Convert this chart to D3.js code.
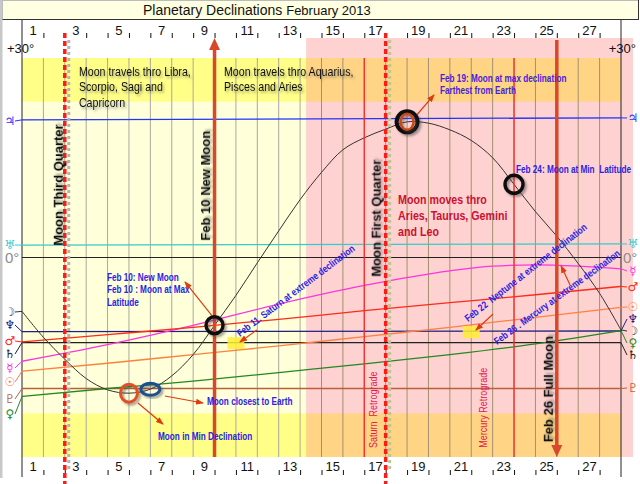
<!DOCTYPE html>
<html>
<head>
<meta charset="utf-8">
<script src="https://cdn.jsdelivr.net/npm/d3@7"></script>
<style>
  body { margin: 0; background: #fff; }
  svg { display: block; font-family: 'Liberation Sans', Arial, sans-serif; }
</style>
</head>
<body>
<svg id="chart" width="640" height="484"></svg>
<script>
/* Planetary declinations, February 2013 — D3 redraw */

// ============================================================
// Data (degrees of declination, by day of month; 29 = 1 March)
// ============================================================

const DAY_TICKS = [1, 2, 3, 4, 5, 6, 7, 8, 9, 10, 11, 12, 13, 14, 15, 16, 17, 18, 19, 20, 21, 22, 23, 24, 25, 26, 27, 28, 29];
const DAY_LABELS = [1, 3, 5, 7, 9, 11, 13, 15, 17, 19, 21, 23, 25, 27];

const MOON_DAYS = DAY_TICKS;
const MOON_DEC = [-8.1, -12.0, -15.3, -18.2, -19.9, -20.4, -19.8, -17.8, -14.6, -10.2,
  -5.7, -0.8, 4.0, 8.7, 12.8, 16.2, 18.0, 19.3, 20.4, 20.2,
  19.2, 17.6, 15.0, 11.0, 6.9, 3.2, -0.9, -5.4, -10.9];

const SAMPLE_DAYS = [1, 5, 9, 13, 17, 21, 25, 29];
const SUN_DEC = [-17.1, -15.9, -14.6, -13.3, -11.9, -10.5, -9.0, -7.5];
const MARS_DEC = [-12.7, -11.6, -10.5, -9.3, -8.0, -6.8, -5.6, -4.35];
const VENUS_DEC = [-20.9, -19.7, -18.6, -17.3, -16.0, -14.6, -13.0, -11.0];

const MERCURY_DAYS = [1, 5, 9, 13, 17, 21, 23, 25, 27, 29];
const MERCURY_DEC = [-15.6, -13.1, -10.2, -7.0, -4.2, -2.0, -1.3, -1.1, -1.3, -1.7];

const END_DAYS = [1, 29];
const JUPITER_DEC = [20.7, 21.0];
const URANUS_DEC = [1.85, 2.05];
const NEPTUNE_DEC = [-11.15, -11.05];
const SATURN_DEC = [-12.8, -12.8];
const PLUTO_DEC = [-19.7, -19.7];

const PHASE_DAYS = [3, 10, 18, 26];
const PHASE_NAMES = ['Moon Third Quarter', 'Feb 10 New Moon', 'Moon First Quarter', 'Feb 26 Full Moon'];
const STATION_DAYS = [17, 24];
const STATION_NAMES = ['Saturn  Retrograde', 'Mercury Retrograde'];

const OBLIQUITY = 23.44;
const SIGN_CHANGE_DAY = 14.28;

// ============================================================
// Setup
// ============================================================

const svg = d3.select('#chart');
const x = d3.scaleLinear().domain([1, 29]).range([22, 621]);
const y = d3.scaleLinear().domain([-30, 30]).range([457, 58]);
const NARROW = 0.82; // no Arial Narrow offline: squeeze Liberation Sans instead

const defs = svg.append('defs');
defs.append('filter').attr('id', 'shadow').attr('x', '-20%').attr('y', '-20%').attr('width', '150%').attr('height', '150%')
  .append('feDropShadow').attr('dx', 2).attr('dy', 2).attr('stdDeviation', 1.2)
  .attr('flood-color', '#444').attr('flood-opacity', 0.5);
defs.append('marker').attr('id', 'arrow')
  .attr('markerUnits', 'userSpaceOnUse').attr('markerWidth', 8).attr('markerHeight', 6)
  .attr('refX', 7).attr('refY', 3).attr('orient', 'auto')
  .append('path').attr('d', 'M0,0L8,3L0,6Z').attr('fill', '#e03a10');

// frame + title bar
svg.append('rect').attr('x', 0).attr('y', 0).attr('width', 2.5).attr('height', 478).attr('fill', '#c8c8c8');
svg.append('rect').attr('x', 2.5).attr('y', 0.5).attr('width', 636).attr('height', 19).attr('fill', '#ffffe1')
  .attr('stroke', '#bbb');
svg.append('line').attr('x1', 2.5).attr('x2', 639).attr('y1', 19.5).attr('y2', 19.5).attr('stroke', '#333');
svg.append('line').attr('x1', 638.5).attr('x2', 638.5).attr('y1', 0).attr('y2', 20).attr('stroke', '#333');

const title = svg.append('text').attr('x', 143).attr('y', 15).attr('fill', '#111');
title.append('tspan').attr('font-size', 14).text('Planetary Declinations ');
title.append('tspan').attr('font-size', 13).text('February 2013');

// ============================================================
// Background regions
// ============================================================

const xs = x(SIGN_CHANGE_DAY);
const bg = svg.append('g');
bg.append('rect').attr('x', x(1)).attr('y', y(30)).attr('width', xs - x(1)).attr('height', y(-30) - y(30)).attr('fill', '#ffffd9');
bg.append('rect').attr('x', xs).attr('y', y(30) - 20).attr('width', x(29) + 12 - xs).attr('height', y(-30) - y(30) + 20).attr('fill', '#ffd2d2');
[[30, OBLIQUITY], [-OBLIQUITY, -30]].forEach(([a, b]) => {
  bg.append('rect').attr('x', x(1)).attr('y', y(a)).attr('width', xs - x(1)).attr('height', y(b) - y(a)).attr('fill', '#ffff88');
  bg.append('rect').attr('x', xs).attr('y', y(a)).attr('width', x(29) - xs).attr('height', y(b) - y(a)).attr('fill', '#ffd585');
});

// grid
svg.append('g').selectAll('line')
  .data(DAY_TICKS.slice(1, -1))
  .join('line')
  .attr('x1', d => x(d)).attr('x2', d => x(d))
  .attr('y1', y(30)).attr('y2', y(-30))
  .attr('stroke', d => d > SIGN_CHANGE_DAY ? '#a49070' : '#a8a8a0').attr('stroke-width', 1);

[1, 29].forEach(d => {
  svg.append('line').attr('x1', x(d)).attr('x2', x(d)).attr('y1', 20).attr('y2', 477).attr('stroke', '#222');
});
svg.append('line').attr('x1', x(1)).attr('x2', x(29)).attr('y1', y(0)).attr('y2', y(0)).attr('stroke', '#222').attr('stroke-width', 1.2);

// ============================================================
// Axes (top + bottom)
// ============================================================

function dayTicks(axisFn, yPos) {
  const g = svg.append('g').attr('transform', `translate(0,${yPos})`)
    .call(axisFn(x).tickValues(DAY_TICKS.slice(1, -1)).tickSize(5).tickFormat(''));
  g.select('.domain').remove();
  g.selectAll('line').attr('stroke', '#111');
}
function dayLabels(axisFn, yPos) {
  const g = svg.append('g').attr('transform', `translate(0,${yPos})`)
    .call(axisFn(x).tickValues(DAY_LABELS.map(d => d + 0.5)).tickSize(0).tickPadding(3).tickFormat(d => Math.floor(d)));
  g.select('.domain').remove();
  g.selectAll('text').attr('font-family', "'Liberation Sans', Arial, sans-serif").attr('font-size', 13).attr('fill', '#111');
}
dayTicks(d3.axisTop, 38);
dayLabels(d3.axisTop, 38);
dayTicks(d3.axisBottom, 470);
dayLabels(d3.axisBottom, 459);

// +30 / 0 labels
svg.append('text').attr('x', 7).attr('y', 53).attr('font-size', 13).attr('fill', '#111').text('+30°');
svg.append('text').attr('x', 636).attr('y', 53).attr('text-anchor', 'end').attr('font-size', 13).attr('fill', '#111').text('+30°');
svg.append('text').attr('x', 5).attr('y', y(0) + 5.5).attr('font-size', 15).attr('fill', '#8c8c8c').text('0°');
svg.append('text').attr('x', 623).attr('y', y(0) + 5.5).attr('font-size', 15).attr('fill', '#8c8c8c').text('0°');

// ============================================================
// Planet lines
// ============================================================

const planets = [
  { sym: '\u2643', color: '#2233ff', days: END_DAYS, dec: JUPITER_DEC, ly: 121, ry: 118 },
  { sym: '\u2645', color: '#33cccc', days: END_DAYS, dec: URANUS_DEC, ly: 245, ry: 244 },
  { sym: '\u2646', color: '#202080', days: END_DAYS, dec: NEPTUNE_DEC, ly: 325, ry: 319 },
  { sym: '\u2644', color: '#222222', days: END_DAYS, dec: SATURN_DEC, ly: 354, ry: 355 },
  { sym: '\u2647', color: '#b8603a', days: END_DAYS, dec: PLUTO_DEC, ly: 399, ry: 388 },
  { sym: '\u263F', color: '#ff33dd', days: MERCURY_DAYS, dec: MERCURY_DEC, ly: 368, ry: 271 },
  { sym: '\u2642', color: '#ff2a1a', days: SAMPLE_DAYS, dec: MARS_DEC, ly: 341, ry: 287 },
  { sym: '\u2609', color: '#ff8040', days: SAMPLE_DAYS, dec: SUN_DEC, ly: 382, ry: 307 },
  { sym: '\u2640', color: '#228822', days: SAMPLE_DAYS, dec: VENUS_DEC, ly: 414, ry: 343 },
  { sym: '\u263D', color: '#333333', days: MOON_DAYS, dec: MOON_DEC, ly: 312, ry: 331, moon: true },
];

const line = d3.line().x(d => x(d[0])).y(d => y(d[1]));
const pg = svg.append('g');
planets.forEach(p => {
  const pts = d3.zip(p.days, p.dec);
  pg.append('path')
    .attr('d', line.curve(p.moon ? d3.curveCatmullRom : d3.curveMonotoneX)(pts))
    .attr('fill', 'none').attr('stroke', p.color).attr('stroke-width', p.moon ? 1 : 1.3);
  // connectors to glyph labels
  pg.append('line').attr('x1', 15).attr('y1', p.ly).attr('x2', x(1)).attr('y2', y(p.dec[0]))
    .attr('stroke', p.color).attr('stroke-width', 1);
  pg.append('line').attr('x1', x(29)).attr('y1', y(p.dec[p.dec.length - 1])).attr('x2', 627).attr('y2', p.ry)
    .attr('stroke', p.color).attr('stroke-width', 1);
  [[10, p.ly], [633, p.ry]].forEach(([gx, gy]) => {
    pg.append('text').attr('x', gx).attr('y', gy)
      .attr('text-anchor', 'middle').attr('dominant-baseline', 'central')
      .attr('font-family', 'DejaVu Sans, sans-serif').attr('font-size', 12).attr('fill', p.color).text(p.sym);
  });
});

// ============================================================
// Moon phases + planetary stations
// ============================================================

const ev = svg.append('g');
STATION_DAYS.forEach(d => {
  ev.append('line').attr('x1', x(d)).attr('x2', x(d)).attr('y1', y(30)).attr('y2', y(-30))
    .attr('stroke', '#ff2a2a').attr('stroke-width', 1.3);
});

PHASE_DAYS.forEach((d, i) => {
  const px = x(d);
  if (i % 2 === 0) {
    // quarter: dashed red with a soft shadow
    ev.append('line').attr('x1', px + 4).attr('x2', px + 4).attr('y1', 40).attr('y2', 470)
      .attr('stroke', i === 0 ? '#b4b4b4' : '#bcc890').attr('stroke-width', 3).attr('stroke-dasharray', '3,3');
    ev.append('line').attr('x1', px).attr('x2', px).attr('y1', 33).attr('y2', 484)
      .attr('stroke', '#ff1a1a').attr('stroke-width', 3.5).attr('stroke-dasharray', '5,3');
  } else {
    const up = i === 1;
    const tip = up ? 38 : y(-30);
    const base = up ? tip + 12 : tip - 12;
    ev.append('line').attr('x1', px).attr('x2', px)
      .attr('y1', up ? base : 40).attr('y2', up ? y(-30) : base)
      .attr('stroke', '#d8482a').attr('stroke-width', 3.5);
    ev.append('path').attr('d', `M${px - 5.5},${base}L${px + 5.5},${base}L${px},${tip}Z`).attr('fill', '#d8482a');
  }
});

// text helper: (day, degree) anchor, optional rotation and horizontal squeeze
function placeText(g, day, dec, angle, squeeze) {
  return g.append('text')
    .attr('transform', `translate(${x(day)},${y(dec)}) rotate(${angle || 0}) scale(${squeeze || 1},1)`)
    .style('white-space', 'pre');
}

// vertical captions (day of the event line + pixel nudge, centre in degrees)
const vlabels = [
  { text: PHASE_NAMES[0], day: PHASE_DAYS[0], dx: -7, dec: 10.9, bold: true },
  { text: PHASE_NAMES[1], day: PHASE_DAYS[1], dx: -9.5, dec: 10.8, bold: true },
  { text: PHASE_NAMES[2], day: PHASE_DAYS[2], dx: -10, dec: 5.9, bold: true },
  { text: PHASE_NAMES[3], day: PHASE_DAYS[3], dx: -9, dec: -19.8, bold: true },
  { text: STATION_NAMES[0], day: STATION_DAYS[0], dx: 9, dec: -22.9, bold: false },
  { text: STATION_NAMES[1], day: STATION_DAYS[1], dx: -31, dec: -22.6, bold: false },
];
vlabels.forEach(v => {
  const t = placeText(ev, v.day + v.dx / 21.39, v.dec, -90, v.bold ? 1 : NARROW)
    .attr('dy', '0.35em').attr('text-anchor', 'middle').text(v.text);
  if (v.bold) t.attr('font-weight', 'bold').attr('font-size', 13).attr('fill', '#111').attr('filter', 'url(#shadow)');
  else t.attr('font-size', 11).attr('fill', '#e0204a');
});

// ============================================================
// Annotations
// ============================================================

const an = svg.append('g');

function textBlock(t) {
  const el = placeText(an, t.day, t.dec, t.angle, NARROW)
    .attr('font-size', t.size).attr('fill', t.color).attr('font-weight', t.bold ? 'bold' : null);
  if (t.shadow) el.attr('filter', 'url(#shadow)');
  t.lines.forEach((s, i) => el.append('tspan').attr('x', 0).attr('dy', i ? t.lh : 0).text(s));
}

const BLUE = '#2a22e6';
[
  { lines: ['Moon travels thro Libra,', 'Scorpio, Sagi and', 'Capricorn'], day: 3.66, dec: 27.3, size: 13, lh: 15.5, color: '#111', shadow: true },
  { lines: ['Moon travels thro Aquarius,', 'Pisces and Aries'], day: 10.44, dec: 27.3, size: 13, lh: 15.5, color: '#111', shadow: true },
  { lines: ['Moon moves thro', 'Aries, Taurus, Gemini', 'and Leo'], day: 18.58, dec: 8.1, size: 13, lh: 16, color: '#cc1030', bold: true },
  { lines: ['Feb 19: Moon at max declination', 'Farthest from Earth'], day: 20.54, dec: 26.4, size: 10, lh: 12, color: '#4a22d8', bold: true },
  { lines: ['Feb 24: Moon at Min  Latitude'], day: 24.09, dec: 12.7, size: 10, lh: 12, color: BLUE, bold: true },
  { lines: ['Feb 10: New Moon', 'Feb 10 : Moon at Max', 'Latitude'], day: 4.97, dec: -3.53, size: 10, lh: 12.5, color: BLUE, bold: true },
  { lines: ['Moon closest to Earth'], day: 9.65, dec: -22.2, size: 10, lh: 12, color: BLUE, bold: true },
  { lines: ['Moon in Min Declination'], day: 7.36, dec: -27.4, size: 10, lh: 12, color: BLUE, bold: true },
  { lines: ['Feb 11. Saturn at extreme declination'], day: 11.19, dec: -11.95, size: 10, lh: 12, color: BLUE, angle: -37, bold: true },
  { lines: ['Feb 22  Neptune at extreme declination'], day: 21.85, dec: -9.7, size: 10, lh: 12, color: BLUE, angle: -38, bold: true },
  { lines: ['Feb 26 . Mercury at extreme declination'], day: 23.2, dec: -13.16, size: 10, lh: 12, color: BLUE, angle: -36, bold: true },
].forEach(textBlock);

// highlight boxes on the station days
[[11, SATURN_DEC[0]], [22, NEPTUNE_DEC[0]]].forEach(([d, v]) => {
  an.append('rect').attr('x', x(d) - 8.5).attr('y', y(v) - 5.5).attr('width', 17).attr('height', 12)
    .attr('fill', '#ffee33').attr('opacity', 0.85);
});

// callout arrows [from, to] in (day, degree)
const ARROWS = [
  [[9.97, -9.1], [8.62, -3.68]],
  [[11.98, -10.9], [11.19, -12.71]],
  [[19.37, 21.13], [20.26, 24.44]],
  [[26.62, -4.14], [26.2, -1.28]],
  [[23.02, -8.5], [22.22, -10.9]],
  [[7.68, -20.83], [9.46, -21.88]],
  [[6.42, -21.88], [7.59, -25.04]],
];
an.selectAll('line.arrow').data(ARROWS).join('line').attr('class', 'arrow')
  .attr('x1', d => x(d[0][0])).attr('y1', d => y(d[0][1]))
  .attr('x2', d => x(d[1][0])).attr('y2', d => y(d[1][1]))
  .attr('stroke', '#e03a10').attr('stroke-width', 1.2).attr('marker-end', 'url(#arrow)');

// rings on the Moon curve
const moonAt = d => MOON_DEC[MOON_DAYS.indexOf(d)];
const RINGS = [
  { day: 10, rx: 8.5, ry: 8.5, color: '#111', w: 3.5 },
  { day: 19, rx: 10.5, ry: 10.5, color: '#111', w: 4 },
  { day: 19, rx: 6.5, ry: 8, color: '#c84818', w: 2.5 },
  { day: 24, rx: 9, ry: 9, color: '#111', w: 3.5 },
  { day: 6, rx: 8.5, ry: 9, color: '#e05028', w: 3 },
  { day: 7, rx: 9.5, ry: 6, color: '#1f4f8f', w: 3 },
];
an.selectAll('ellipse').data(RINGS).join('ellipse')
  .attr('cx', d => x(d.day)).attr('cy', d => y(moonAt(d.day)))
  .attr('rx', d => d.rx).attr('ry', d => d.ry)
  .attr('fill', 'none').attr('stroke', d => d.color).attr('stroke-width', d => d.w)
  .attr('filter', 'url(#shadow)');
</script>
</body>
</html>
